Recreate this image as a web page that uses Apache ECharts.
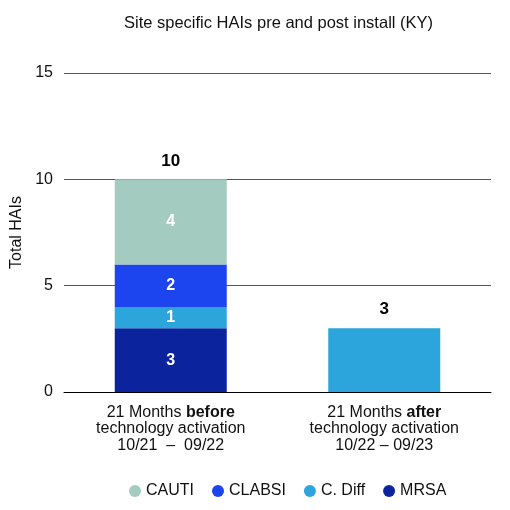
<!DOCTYPE html>
<html>
<head>
<meta charset="utf-8">
<script src="https://cdn.jsdelivr.net/npm/echarts@6/dist/echarts.min.js"></script>
<style>
html, body { margin: 0; padding: 0; background: #fff; }
#main { width: 510px; height: 510px; }
</style>
</head>
<body>
<div id="main"></div>
<script>
var categories = [
    '21 Months {b|before}\ntechnology activation\n10/21  \u2013  09/22',
    '21 Months {b|after}\ntechnology activation\n10/22 \u2013 09/23'
];
var mrsa = [3, 0];
var cdiff = [1, 3];
var clabsi = [2, 0];
var cauti = [4, 0];
var totals = [10, 3];
var yTicks = [0, 5, 10, 15];

var font = 'Liberation Sans';
var myChart = echarts.init(document.getElementById('main'));

// inside label: hide zeros and single-segment bars (total shown on top)
function insideLabel(p) {
    if (!p.value || p.value === totals[p.dataIndex]) return '';
    return p.value;
}

function part(name, data, color) {
    return {
        name: name,
        type: 'bar',
        stack: 'hai',
        barWidth: 112,
        itemStyle: { color: color },
        label: {
            show: true,
            position: 'inside',
            color: '#fff',
            fontFamily: font,
            fontWeight: 'bold',
            fontSize: 16,
            formatter: insideLabel
        },
        data: data
    };
}

var option = {
    animation: false,
    title: {
        text: 'Site specific HAIs pre and post install (KY)',
        left: 119,
        top: 10,
        textStyle: { fontFamily: font, fontSize: 16.5, fontWeight: 'normal', color: '#111' }
    },
    legend: {
        bottom: 6,
        left: 124,
        icon: 'circle',
        itemWidth: 12,
        itemHeight: 12,
        itemGap: 18,
        data: ['CAUTI', 'CLABSI', 'C. Diff', 'MRSA'],
        textStyle: { fontFamily: font, fontSize: 16, color: '#111' }
    },
    grid: { left: 64, right: 19, top: 73, bottom: 118 },
    xAxis: {
        type: 'category',
        data: categories,
        axisTick: { show: false },
        axisLine: { lineStyle: { color: '#000', width: 1 } },
        axisLabel: {
            margin: 12,
            fontFamily: font,
            fontSize: 16,
            lineHeight: 16.5,
            color: '#111',
            rich: {
                b: { fontFamily: font, fontSize: 16, fontWeight: 'bold', color: '#111', lineHeight: 16.5 }
            }
        }
    },
    yAxis: {
        type: 'value',
        min: yTicks[0],
        max: yTicks[yTicks.length - 1],
        interval: 5,
        name: 'Total HAIs',
        nameLocation: 'middle',
        nameGap: 39,
        nameTextStyle: { fontFamily: font, fontSize: 16, color: '#111' },
        axisLine: { show: false },
        axisTick: { show: false },
        axisLabel: { margin: 11, fontFamily: font, fontSize: 16, color: '#111' },
        splitLine: { lineStyle: { color: '#555', width: 1 } }
    },
    series: [
        part('MRSA', mrsa, '#0c239e'),
        part('C. Diff', cdiff, '#2ba5db'),
        part('CLABSI', clabsi, '#1c45f0'),
        part('CAUTI', cauti, '#a3cbbf'),
        {
            name: 'total',
            type: 'bar',
            stack: 'hai',
            barWidth: 112,
            itemStyle: { color: 'transparent' },
            label: {
                show: true,
                position: 'top',
                distance: 10,
                color: '#000',
                fontFamily: font,
                fontWeight: 'bold',
                fontSize: 17,
                formatter: function (p) { return totals[p.dataIndex]; }
            },
            data: totals.map(function () { return 0; })
        }
    ]
};
myChart.setOption(option);
</script>
</body>
</html>
